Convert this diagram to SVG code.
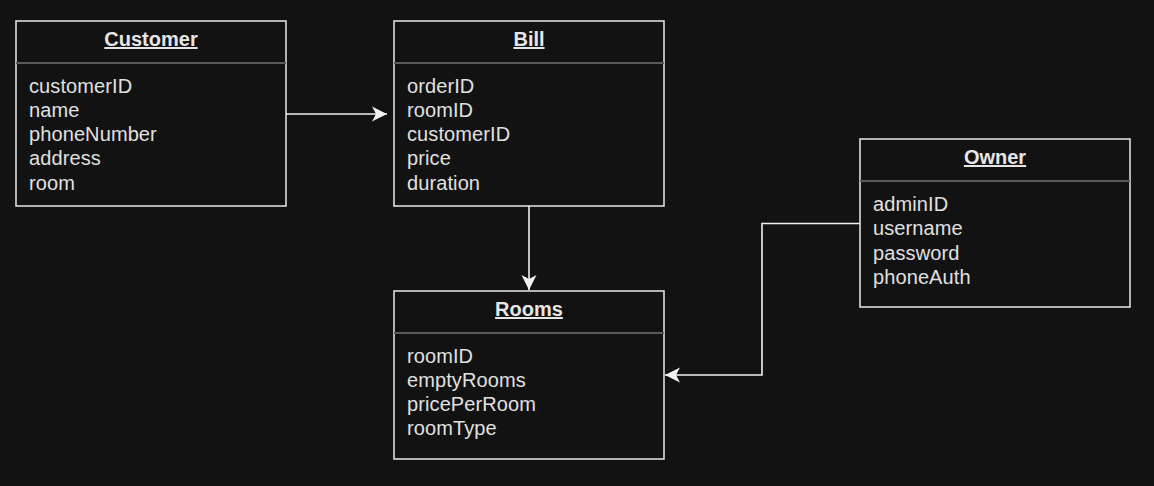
<svg xmlns="http://www.w3.org/2000/svg" width="1154" height="486" viewBox="0 0 1154 486">
<style>
.box{fill:#121212;stroke:#dcdcdc;stroke-width:1.6}
.sep{stroke:#5a5a5a;stroke-width:2}
.title{font-family:"Liberation Sans",Arial,sans-serif;font-size:20px;font-weight:bold;fill:#e6e6e6;text-anchor:middle;text-decoration:underline}
.attr{font-family:"Liberation Sans",Arial,sans-serif;font-size:20px;fill:#e0e0e0;letter-spacing:0.1px}
.edge{fill:none;stroke:#f0f0f0;stroke-width:1.6}
</style>
<defs>
<marker id="arrow" markerUnits="userSpaceOnUse" markerWidth="16" markerHeight="16" viewBox="0 0 16 16" refX="15" refY="8" orient="auto">
<path d="M0,0.5 L15,8 L0,15.5 L4,8 Z" fill="#f0f0f0"/>
</marker>
</defs>
<rect width="1154" height="486" fill="#121212"/>
<g id="customer">
<rect class="box" x="16" y="21" width="270" height="185"/>
<line class="sep" x1="16" y1="63" x2="286" y2="63"/>
<text class="title" x="151" y="46">Customer</text>
<text class="attr" x="29" y="92.5">customerID</text>
<text class="attr" x="29" y="116.8">name</text>
<text class="attr" x="29" y="141.1">phoneNumber</text>
<text class="attr" x="29" y="165.4">address</text>
<text class="attr" x="29" y="189.7">room</text>
</g>
<g id="bill">
<rect class="box" x="394" y="21" width="270" height="185"/>
<line class="sep" x1="394" y1="63" x2="664" y2="63"/>
<text class="title" x="529" y="46">Bill</text>
<text class="attr" x="407" y="92.5">orderID</text>
<text class="attr" x="407" y="116.8">roomID</text>
<text class="attr" x="407" y="141.1">customerID</text>
<text class="attr" x="407" y="165.4">price</text>
<text class="attr" x="407" y="189.7">duration</text>
</g>
<g id="rooms">
<rect class="box" x="394" y="291" width="270" height="168"/>
<line class="sep" x1="394" y1="333" x2="664" y2="333"/>
<text class="title" x="529" y="316">Rooms</text>
<text class="attr" x="407" y="362.5">roomID</text>
<text class="attr" x="407" y="386.8">emptyRooms</text>
<text class="attr" x="407" y="411.1">pricePerRoom</text>
<text class="attr" x="407" y="435.4">roomType</text>
</g>
<g id="owner">
<rect class="box" x="860" y="139" width="270" height="168"/>
<line class="sep" x1="860" y1="181" x2="1130" y2="181"/>
<text class="title" x="995" y="164">Owner</text>
<text class="attr" x="873" y="211">adminID</text>
<text class="attr" x="873" y="235.3">username</text>
<text class="attr" x="873" y="259.6">password</text>
<text class="attr" x="873" y="283.9">phoneAuth</text>
</g>
<g id="connectors">
<path class="edge" d="M286,114 L387,114" marker-end="url(#arrow)"/>
<path class="edge" d="M529,206 L529,290" marker-end="url(#arrow)"/>
<path class="edge" d="M860,223.5 L762,223.5 L762,375 L665,375" marker-end="url(#arrow)"/>
</g>
</svg>
